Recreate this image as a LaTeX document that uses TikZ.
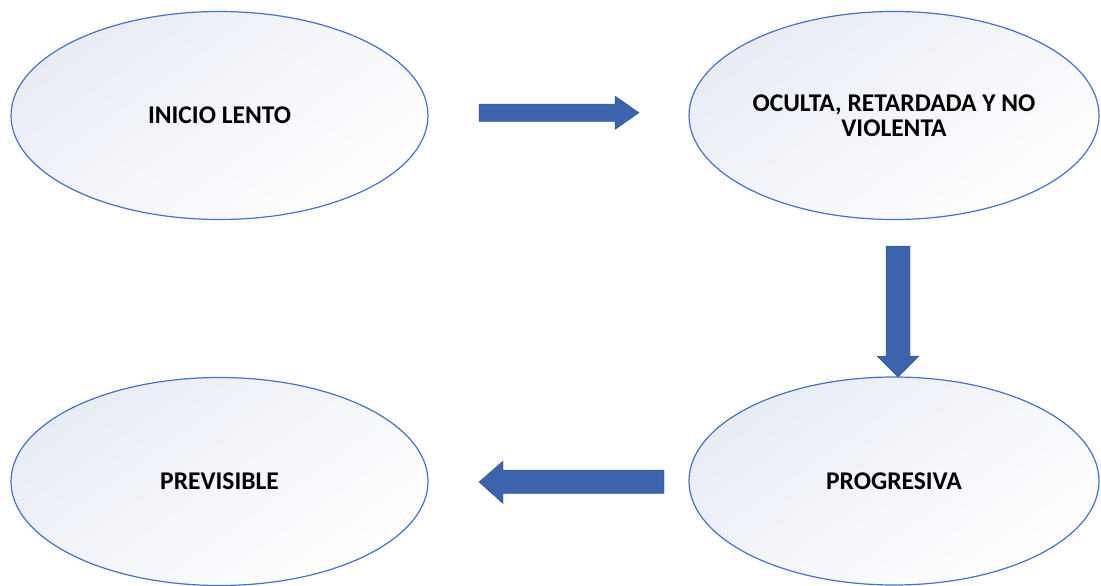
\documentclass[tikz,border=0pt]{standalone}
\usepackage{fontspec}
\setmainfont{Carlito}
\usetikzlibrary{shapes.geometric}
\definecolor{ovalline}{HTML}{4472C4}
\definecolor{ovaltint}{HTML}{E9ECF6}
\definecolor{blockfill}{HTML}{3D63AC}
\definecolor{blockline}{HTML}{2F528F}
\tikzset{
  stage/.style={ellipse, draw=ovalline, line width=1.2pt,
    minimum width=417pt, minimum height=208pt, inner sep=0pt,
    top color=ovaltint, bottom color=white, shading angle=35,
    align=center, font=\fontsize{25.5}{24.5}\selectfont\bfseries},
  blockarrow/.style={fill=blockfill, draw=blockline, line width=0.4pt}
}
\begin{document}
\begin{tikzpicture}[x=1pt,y=-1pt]
  \useasboundingbox (0,0) rectangle (1101,586);
  \node[stage] (inicio)     at (219.5,115.5) {INICIO LENTO};
  \node[stage, minimum width=410pt] (oculta) at (894,115.5)
    {OCULTA, RETARDADA Y NO\\VIOLENTA};
  \node[stage, minimum width=410pt] (progresiva) at (894,481) {PROGRESIVA};
  \node[stage] (previsible) at (219.5,481.5) {PREVISIBLE};

  % block arrow: inicio -> oculta
  \draw[blockarrow] (479,104) -- (615,104) -- (615,96) -- (639,112.7)
    -- (615,129.5) -- (615,121.5) -- (479,121.5) -- cycle;
  % block arrow: oculta -> progresiva
  \draw[blockarrow] (886,246) -- (910,246) -- (910,356) -- (919,356)
    -- (898,377) -- (877,356) -- (886,356) -- cycle;
  % block arrow: progresiva -> previsible
  \draw[blockarrow] (664,470) -- (503,470) -- (503,461) -- (479,482)
    -- (503,503.5) -- (503,493.5) -- (664,493.5) -- cycle;
\end{tikzpicture}
\end{document}
